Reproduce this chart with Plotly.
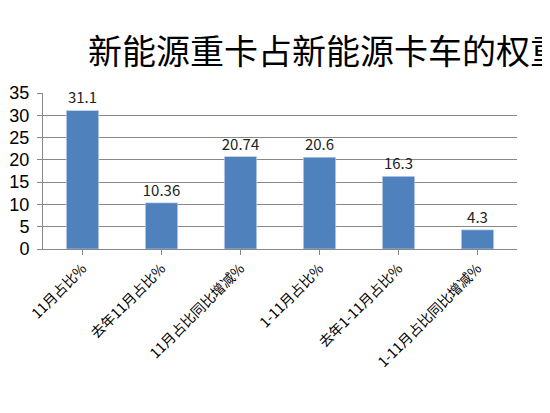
import plotly.graph_objects as go

categories = ["11月占比%", "去年11月占比%", "11月占比同比增减%", "1-11月占比%", "去年1-11月占比%", "1-11月占比同比增减%"]
values = [31.1, 10.36, 20.74, 20.6, 16.3, 4.3]
labels = ["31.1", "10.36", "20.74", "20.6", "16.3", "4.3"]

fig = go.Figure(go.Bar(
    x=categories, y=values, text=labels, textposition="outside",
    textfont=dict(size=15, color="#222222"), cliponaxis=False,
    constraintext="none", textangle=0,
    marker_color="#4F81BD", width=0.41, showlegend=False,
))

fig.update_layout(
    width=550, height=413,
    margin=dict(l=35, r=41, t=85, b=172, autoexpand=False),
    plot_bgcolor="white", paper_bgcolor="white",
    font=dict(family="Noto Sans CJK SC, Liberation Sans", color="black"),
    xaxis=dict(tickangle=-45, tickfont=dict(size=14, color="black"), automargin=False,
               showline=True, linecolor="#888888", ticks="outside",
               ticklen=5, tickcolor="#888888"),
    yaxis=dict(range=[0, 35], dtick=5, showgrid=True, gridcolor="#888888",
               tickfont=dict(size=18, family="Liberation Sans"), automargin=False,
               showline=True, linecolor="#888888", ticks="outside",
               ticklen=5, tickcolor="#888888", ticklabelstandoff=4,
               zeroline=False),
    annotations=[dict(text="新能源重卡占新能源卡车的权重", xref="paper", yref="paper",
                      x=(78 - 35) / 474, y=1, yshift=44, xanchor="left", yanchor="middle",
                      showarrow=False, font=dict(size=34, color="black"))],
    shapes=[dict(type="rect", xref="paper", yref="paper",
                 x0=(538 - 35) / 474, x1=(548 - 35) / 474,
                 y0=(241 - 242) / 156, y1=(241 - 232) / 156,
                 fillcolor="#4F81BD", line_width=0)],
)

fig.write_html("out.html")
